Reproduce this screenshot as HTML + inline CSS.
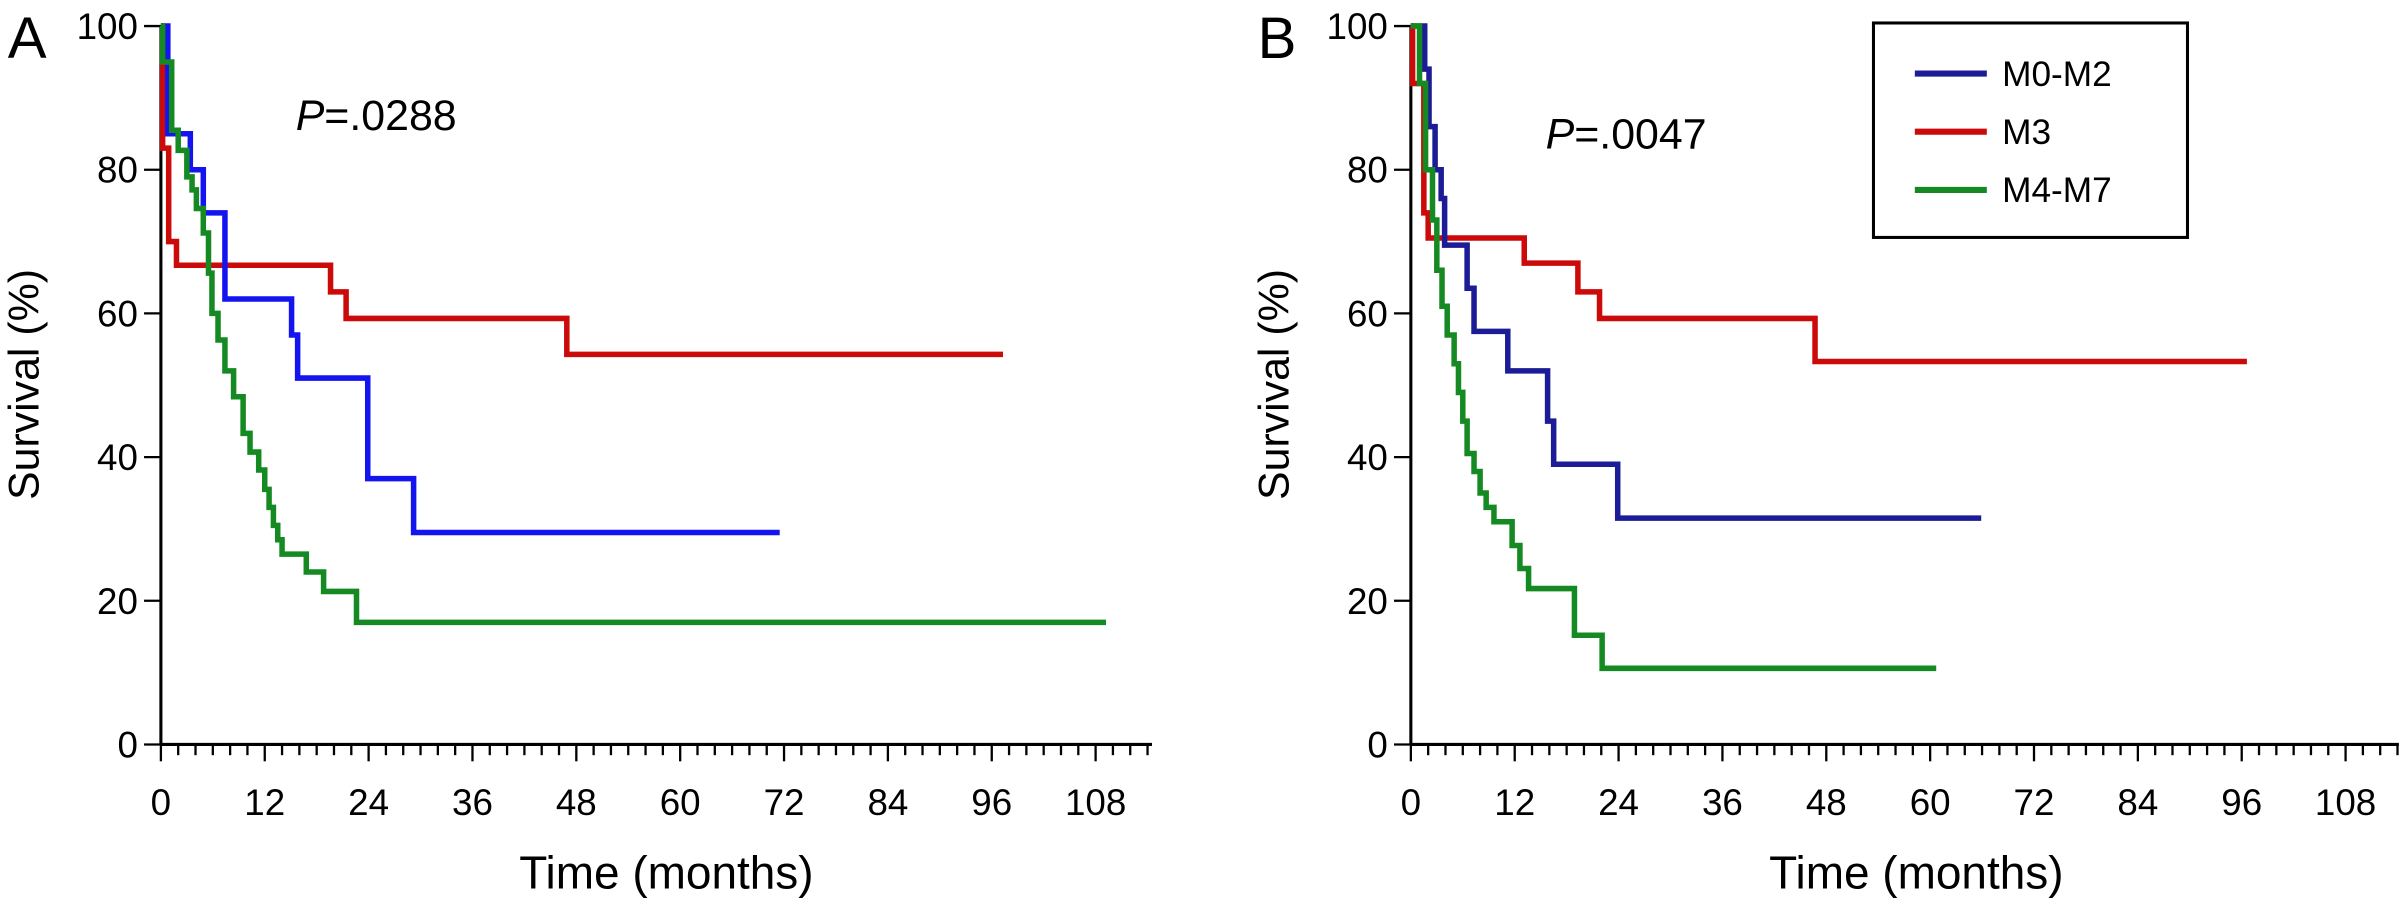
<!DOCTYPE html>
<html><head><meta charset="utf-8"><style>
html,body{margin:0;padding:0;background:#fff;}
svg{display:block;font-family:"Liberation Sans",Arial,sans-serif;}
</style></head><body>
<svg id="chart" width="2402" height="905" viewBox="0 0 1568 590.8" xmlns="http://www.w3.org/2000/svg"></svg>
<script>
// Panel A data
const aBlueT = [0, 0.8, 3.4, 4.9, 7.4, 15.1, 15.8, 23.9, 29.2, 71.5];
const aBlueS = [100, 85, 80, 74, 62, 57, 51, 37, 29.5, 29.5];
const aRedT = [0, 0.2, 0.9, 1.8, 19.6, 21.4, 46.9, 97.3];
const aRedS = [100, 83, 70, 66.7, 63, 59.3, 54.3, 54.3];
const aGreenT = [0, 0.2, 1.25, 2.0, 3.0, 3.6, 4.1, 4.9, 5.5, 5.9, 6.6, 7.4, 8.4, 9.5, 10.3, 11.3, 12.0, 12.5, 13.0, 13.5, 14.0, 16.8, 18.8, 22.6, 109.2];
const aGreenS = [100, 95, 85.5, 82.7, 79, 77.2, 74.6, 71.2, 65.6, 60, 56.3, 52, 48.4, 43.3, 40.7, 38.2, 35.5, 33, 30.5, 28.5, 26.5, 24, 21.3, 17, 17];
// Panel B data
const bBlueT = [0, 1.6, 2.1, 2.8, 3.5, 3.9, 6.5, 7.3, 11.2, 15.8, 16.5, 23.9, 65.9];
const bBlueS = [100, 94, 86, 80, 76, 69.5, 63.5, 57.5, 52, 45, 39, 31.5, 31.5];
const bRedT = [0, 0.2, 1.5, 2.0, 13.1, 19.3, 21.8, 46.7, 96.6];
const bRedS = [100, 92, 74, 70.5, 67, 63, 59.3, 53.3, 53.3];
const bGreenT = [0, 1.0, 1.7, 2.5, 3.0, 3.6, 4.2, 5.0, 5.5, 6.0, 6.5, 7.3, 8.0, 8.7, 9.6, 11.7, 12.6, 13.6, 18.9, 22.1, 60.7];
const bGreenS = [100, 92, 80, 73, 66, 61, 57, 53, 49, 45, 40.5, 38, 35, 33, 31, 27.7, 24.5, 21.7, 15.2, 10.6, 10.6];
const xTicks = [0, 12, 24, 36, 48, 60, 72, 84, 96, 108];
const yTicks = [0, 20, 40, 60, 80, 100];
const legendLabels = ["M0-M2", "M3", "M4-M7"];

const NS = "http://www.w3.org/2000/svg";
const svg = document.getElementById("chart");
function mk(tag, attrs, parent) {
  const e = document.createElementNS(NS, tag);
  for (const k in attrs) e.setAttribute(k, attrs[k]);
  (parent || svg).appendChild(e);
  return e;
}
const Y0 = 486, YK = 4.69, XK = 5.65;
function drawPanel(ox, axisEnd, letter, pText, pY, series, name) {
  const g = mk("g", {});
  
  
  const sx = t => ox + t * XK;
  const sy = v => Y0 - v * YK;
  const ya = mk("line", {x1: ox, y1: sy(100), x2: ox, y2: Y0, stroke: "#000", "stroke-width": 2}, g);
  
  
  const xa = mk("line", {x1: ox, y1: Y0, x2: axisEnd, y2: Y0, stroke: "#000", "stroke-width": 2}, g);
  
  
  for (let m = 0; sx(m) <= axisEnd + 0.5; m += 2) {
    const major = m % 12 === 0;
    const tk = mk("line", {x1: sx(m), y1: Y0, x2: sx(m), y2: Y0 + (major ? 11 : 7), stroke: "#000", "stroke-width": 1.5}, g);
    
    
  }
  xTicks.forEach(v => {
    const t = mk("text", {x: sx(v), y: 532, "font-size": 24, "text-anchor": "middle"}, g);
    t.textContent = v;
    
    
  });
  yTicks.forEach(v => {
    const tk = mk("line", {x1: ox - 11, y1: sy(v), x2: ox, y2: sy(v), stroke: "#000", "stroke-width": 1.5}, g);
    
    
    const t = mk("text", {x: ox - 15, y: sy(v) + 8.5, "font-size": 24, "text-anchor": "end"}, g);
    t.textContent = v;
    
    
  });
  const yt = mk("text", {x: 0, y: 0, "font-size": 28, "text-anchor": "middle", transform: `translate(${ox - 80},251) rotate(-90)`}, g);
  yt.textContent = "Survival (%)";
  
  
  const xt = mk("text", {x: ox + 330, y: 580, "font-size": 30, "text-anchor": "middle"}, g);
  xt.textContent = "Time (months)";
  
  
  const pl = mk("text", {x: ox - 100, y: 38, "font-size": 38}, g);
  pl.textContent = letter;
  
  
  const pv = mk("text", {x: ox + 88, y: pY, "font-size": 28}, g);
  const it = mk("tspan", {"font-style": "italic"}, pv);
  it.textContent = "P";
  const rest = mk("tspan", {}, pv);
  rest.textContent = pText;
  
  
  series.forEach(s => {
    let d = `M${sx(s.t[0])},${sy(s.s[0])}`;
    for (let i = 1; i < s.t.length; i++) {
      d += ` H${sx(s.t[i])} V${sy(s.s[i])}`;
    }
    const p = mk("path", {d: d, fill: "none", stroke: s.c, "stroke-width": 3.6, "stroke-linejoin": "miter"}, g);
    
    
  });
}
drawPanel(105, 752, "A", "=.0288", 85, [
  {t: aRedT, s: aRedS, c: "#cc0a0a", n: "curve-m3"},
  {t: aBlueT, s: aBlueS, c: "#1414f0", n: "curve-m0-m2"},
  {t: aGreenT, s: aGreenS, c: "#168a22", n: "curve-m4-m7"}
], "panel-a");
drawPanel(921, 1566, "B", "=.0047", 97, [
  {t: bRedT, s: bRedS, c: "#cc0a0a", n: "curve-m3"},
  {t: bBlueT, s: bBlueS, c: "#1c1c96", n: "curve-m0-m2"},
  {t: bGreenT, s: bGreenS, c: "#168a22", n: "curve-m4-m7"}
], "panel-b");
const lg = mk("g", {});


mk("rect", {x: 1223, y: 15, width: 205, height: 140, fill: "#fff", stroke: "#000", "stroke-width": 2}, lg);
const lc = ["#1c1c96", "#cc0a0a", "#168a22"];
legendLabels.forEach((lab, i) => {
  const y = 48 + i * 38;
  const ln = mk("line", {x1: 1250, y1: y, x2: 1297, y2: y, stroke: lc[i], "stroke-width": 4}, lg);
  
  
  const t = mk("text", {x: 1307, y: y + 8, "font-size": 23}, lg);
  t.textContent = lab;
  
  
});
</script>
</body></html>
